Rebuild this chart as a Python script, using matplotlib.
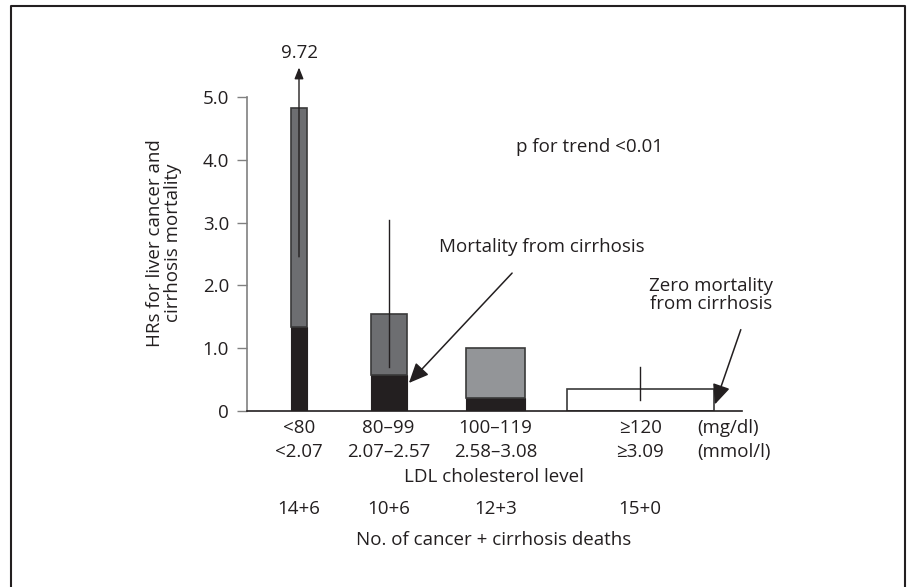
import matplotlib
matplotlib.use("Agg")
import matplotlib.pyplot as plt
from matplotlib.lines import Line2D

plt.rcParams['font.family'] = ['Open Sans', 'DejaVu Sans']
plt.rcParams['font.size'] = 13.5

# data
groups_mg = ["<80", "80\u201399", "100\u2013119", "\u2265120"]
groups_mmol = ["<2.07", "2.07\u20132.57", "2.58\u20133.08", "\u22653.09"]
deaths = ["14+6", "10+6", "12+3", "15+0"]
hr_total = [4.83, 1.55, 1.0, 0.34]
hr_cirrhosis = [1.33, 0.57, 0.21, 0.0]
ci_low = [2.41, 0.70, None, 0.17]
ci_high = [9.72, 3.05, None, 0.70]

# layout (axis units ~ pixels on x)
centers = [299, 388.5, 495.5, 640]
widths = [16, 36, 59, 147]
top_colors = ["#6d6e71", "#6d6e71", "#939598", "white"]

W, H = 909, 587
fig = plt.figure(figsize=(W / 100, H / 100), dpi=100)
ax = fig.add_axes([247 / W, (H - 410.7) / H, (742 - 247) / W, 313.4 / H])
ax.set_xlim(247, 742)
ax.set_ylim(0, 5.0)

cancer = [t - c for t, c in zip(hr_total, hr_cirrhosis)]
ax.bar(centers, hr_cirrhosis, width=widths, color="#231f20", edgecolor="#231f20", lw=0.8, zorder=2)
ax.bar(centers, cancer, width=widths, bottom=hr_cirrhosis, color=top_colors,
       edgecolor="#3a3a3a", lw=1.2, zorder=2)

# error bars (no caps)
for x, lo, hi in zip(centers, ci_low, ci_high):
    if lo is None:
        continue
    if hi > 5.0:
        ax.annotate("", xy=(x, 5.52), xytext=(x, lo), xycoords="data",
                    arrowprops=dict(arrowstyle="-|>,head_length=0.5,head_width=0.2",
                                    color="#231f20", lw=1), annotation_clip=False, zorder=3)
        ax.text(x, 5.70, "%.2f" % hi, ha="center", va="center", color="#231f20", clip_on=False)
    else:
        ax.plot([x, x], [lo, hi], color="#231f20", lw=1, zorder=3)

for s in ["top", "right"]:
    ax.spines[s].set_visible(False)
ax.spines["left"].set_color("#808080")
ax.spines["left"].set_linewidth(1.2)
ax.spines["bottom"].set_color("#231f20")
ax.spines["bottom"].set_linewidth(1.2)
ax.spines["bottom"].set_zorder(4)
ax.set_yticks([0, 1, 2, 3, 4, 5])
ax.set_yticklabels(["0", "1.0", "2.0", "3.0", "4.0", "5.0"])
ax.tick_params(axis="y", direction="out", length=7, width=1, color="#808080",
               labelcolor="#231f20", pad=6, labelsize=13.5)
ax.set_xticks([])

# category labels below the axis
for x, a, b, d in zip(centers, groups_mg, groups_mmol, deaths):
    ax.text(x, -0.28, a, ha="center", va="center", color="#231f20", clip_on=False)
    ax.text(x, -0.66, b, ha="center", va="center", color="#231f20", clip_on=False)
    ax.text(x, -1.57, d, ha="center", va="center", color="#231f20", clip_on=False)
ax.text(697, -0.28, "(mg/dl)", ha="left", va="center", color="#231f20", clip_on=False)
ax.text(697, -0.66, "(mmol/l)", ha="left", va="center", color="#231f20", clip_on=False)
ax.text(494, -1.06, "LDL cholesterol level", ha="center", va="center", color="#231f20", clip_on=False)
ax.text(494, -2.07, "No. of cancer + cirrhosis deaths", ha="center", va="center", color="#231f20", clip_on=False)

fig.text(164 / W, 1 - 243 / H, "HRs for liver cancer and\ncirrhosis mortality", rotation=90,
         ha="center", va="center", multialignment="center", color="#231f20", linespacing=1.0)

ax.text(589, (410.7 - 146.7) / 62.7, "p for trend <0.01", ha="center", va="center", color="#231f20")
ax.text(542, (410.7 - 246.7) / 62.7, "Mortality from cirrhosis", ha="center", va="center", color="#231f20")
ax.text(711, (410.7 - 295) / 62.7, "Zero mortality\nfrom cirrhosis", ha="center", va="center",
        multialignment="center", color="#231f20", linespacing=1.0)

arrow = dict(arrowstyle="-|>,head_length=0.9,head_width=0.4", color="#231f20", lw=1.1)
ax.annotate("", xy=(407, (410.7 - 385) / 62.7), xytext=(514, (410.7 - 271) / 62.7),
            arrowprops=arrow, annotation_clip=False, zorder=5)
ax.annotate("", xy=(714, (410.7 - 407) / 62.7), xytext=(741.7, (410.7 - 327) / 62.7),
            arrowprops=arrow, annotation_clip=False, zorder=5)

# frame around the figure (open at the bottom)
fx = [11 / W, 11 / W, 905 / W, 905 / W]
fy = [0, 1 - 6 / H, 1 - 6 / H, 0]
fig.add_artist(Line2D(fx, fy, transform=fig.transFigure, color="#231f20", lw=1.5))

fig.savefig("out.png", dpi=100)
